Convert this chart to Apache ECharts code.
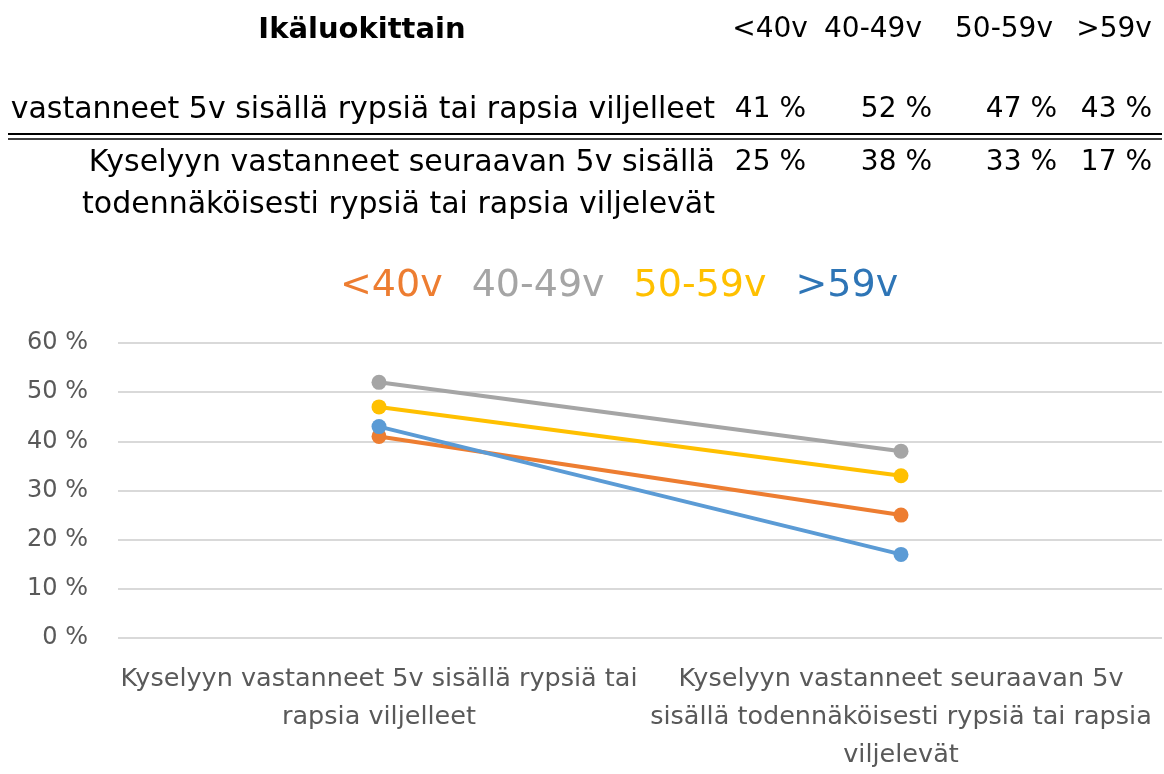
<!DOCTYPE html>
<html>
<head>
<meta charset="utf-8">
<script src="https://cdn.jsdelivr.net/npm/echarts@6/dist/echarts.min.js"></script>
<style>
  html, body { margin: 0; padding: 0; background: #fff; }
  #chart { width: 1164px; height: 774px; }
</style>
</head>
<body>
<div id="chart"></div>
<script>
// categories (x axis)
var periods = [
  'Kyselyyn vastanneet 5v sisällä rypsiä tai rapsia viljelleet',
  'Kyselyyn vastanneet seuraavan 5v sisällä todennäköisesti rypsiä tai rapsia viljelevät'
];
// tick labels, wrapped as in the original
var periodLabels = [
  'Kyselyyn vastanneet 5v sisällä rypsiä tai\nrapsia viljelleet',
  'Kyselyyn vastanneet seuraavan 5v\nsisällä todennäköisesti rypsiä tai rapsia\nviljelevät'
];
// age groups (series)
var ageGroups = ['<40v', '40-49v', '50-59v', '>59v'];
var colors = ['#ED7D31', '#A5A5A5', '#FFC000', '#5B9BD5'];
// values per age group, % [past 5v, next 5v]
var under40 = [41, 25];
var from40to49 = [52, 38];
var from50to59 = [47, 33];
var over59 = [43, 17];
var seriesValues = [under40, from40to49, from50to59, over59];

// table rows above the chart
var tableTitle = 'Ikäluokittain';
var rowLabels = [
  ['vastanneet 5v sisällä rypsiä tai rapsia viljelleet'],
  ['Kyselyyn vastanneet seuraavan 5v sisällä', 'todennäköisesti rypsiä tai rapsia viljelevät']
];

var FONT = '"DejaVu Sans"';
var chart = echarts.init(document.getElementById('chart'));

// table built as graphic texts
var graphics = [];
function txt(x, y, s, align, size, opts) {
  graphics.push({
    type: 'text', x: x, y: y,
    style: Object.assign({
      text: s, fill: '#000', font: size + 'px ' + FONT,
      textAlign: align, textVerticalAlign: 'middle'
    }, opts || {})
  });
}
txt(362, 30, tableTitle, 'center', 29, { font: 'bold 29px ' + FONT });
var headerX = [770, 873, 1004, 1114];
ageGroups.forEach(function (g, i) { txt(headerX[i], 30, g, 'center', 28); });

var valueX = [806, 932, 1057, 1152];
txt(715, 110, rowLabels[0][0], 'right', 30);
txt(715, 163, rowLabels[1][0], 'right', 30);
txt(715, 205, rowLabels[1][1], 'right', 30);
seriesValues.forEach(function (vals, i) {
  txt(valueX[i], 110, vals[0] + ' %', 'right', 28);
  txt(valueX[i], 163, vals[1] + ' %', 'right', 28);
});
// double rule under the first row
graphics.push({ type: 'line', shape: { x1: 8, y1: 134, x2: 1162, y2: 134 }, style: { stroke: '#000', lineWidth: 2 } });
graphics.push({ type: 'line', shape: { x1: 8, y1: 139, x2: 1162, y2: 139 }, style: { stroke: '#000', lineWidth: 1.5 } });

chart.setOption({
  animation: false,
  color: colors,
  textStyle: { fontFamily: FONT },
  graphic: graphics,
  legend: {
    top: 262,
    left: 330,
    icon: 'none',
    itemWidth: 0,
    itemGap: 24,
    data: ageGroups.map(function (g, i) {
      return { name: g, textStyle: { color: i === 3 ? '#2E75B6' : colors[i] } };
    }),
    textStyle: { fontSize: 38, fontFamily: FONT }
  },
  grid: { left: 118, right: 2, top: 343, bottom: 132, containLabel: false },
  xAxis: {
    type: 'category',
    data: periods,
    axisLine: { show: false },
    axisTick: { show: false },
    axisLabel: {
      interval: 0,
      margin: 22,
      color: '#595959',
      fontSize: 25.5,
      lineHeight: 38,
      formatter: function (v, i) { return periodLabels[i]; }
    }
  },
  yAxis: {
    type: 'value',
    min: 0,
    max: 60,
    interval: 10,
    axisLine: { show: false },
    axisTick: { show: false },
    splitLine: { lineStyle: { color: '#D9D9D9', width: 2 } },
    axisLabel: {
      formatter: '{value} %',
      color: '#595959',
      fontSize: 24,
      margin: 30
    }
  },
  series: ageGroups.map(function (g, i) {
    return {
      name: g,
      type: 'line',
      data: seriesValues[i],
      symbol: 'circle',
      symbolSize: 15,
      lineStyle: { width: 4 }
    };
  })
});
</script>
</body>
</html>
